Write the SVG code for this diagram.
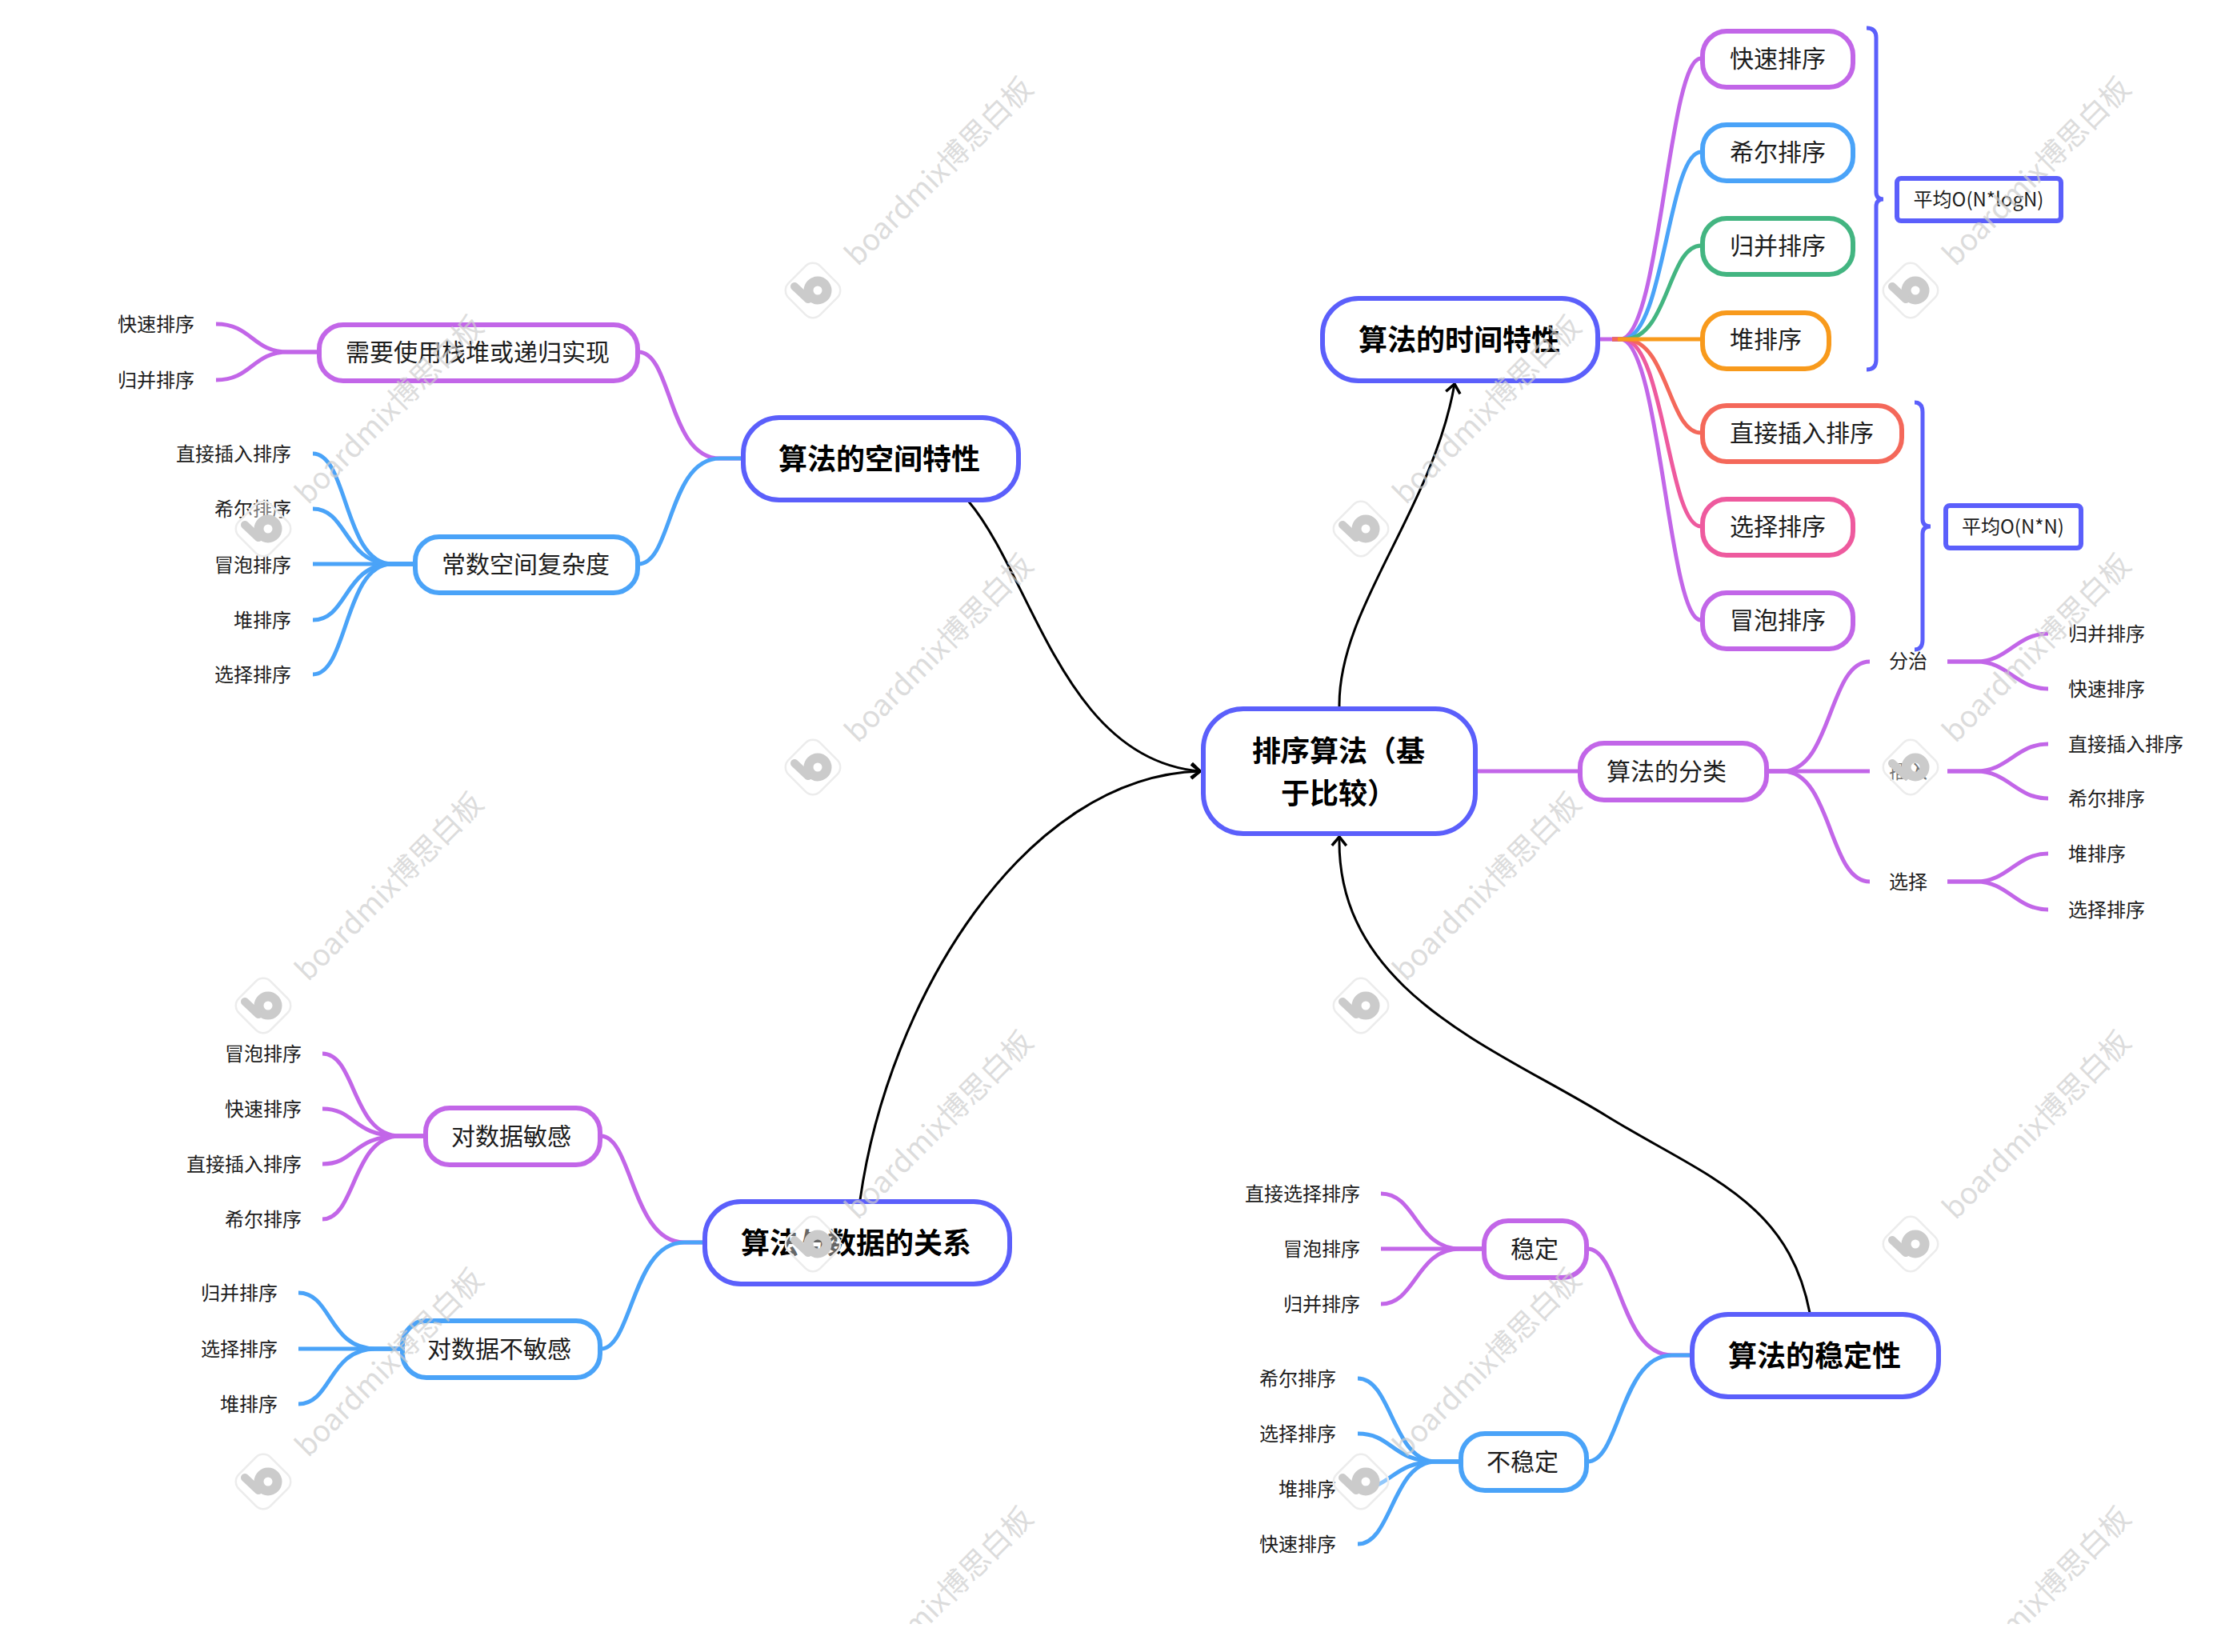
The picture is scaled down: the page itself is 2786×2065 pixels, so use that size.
<svg xmlns="http://www.w3.org/2000/svg" width="2786" height="2065" viewBox="0 0 2786 2065">
<style>
text{font-family:"Noto Sans CJK SC","Noto Sans",sans-serif;fill:#1c1c1c;dominant-baseline:central}
.t0,.t1,.tl,.tb{transform:translateY(-2px)}
.t0{font-size:36px;font-weight:700;fill:#000;text-anchor:middle}
.t1{font-size:30px;text-anchor:middle}
.tl{font-size:24px}
.e{text-anchor:end}
.tb{font-size:24px;text-anchor:middle}
.n{fill:#fff;stroke-width:6}
.main{stroke:#5b5ffb}
.c{fill:none;stroke-width:5;stroke-linecap:butt}
.p{stroke:#c266e8}.b{stroke:#4aa3f8}.g{stroke:#43b581}.o{stroke:#f89a1c}.r{stroke:#f4685a}.k{stroke:#ee5a9e}
.ar{fill:none;stroke:#000;stroke-width:3;marker-end:url(#arr)}
.br{fill:none;stroke:#5b5ffb;stroke-width:5}
.wt{font-size:37px;fill:#cdcdcd;fill-opacity:.7;dominant-baseline:auto}
</style>
<defs>
<marker id="arr" markerUnits="userSpaceOnUse" markerWidth="26" markerHeight="26" refX="17" refY="13" orient="auto"><path d="M6 4 L17 13 L6 22" fill="none" stroke="#000" stroke-width="3.5"/></marker>
<g id="logo"><rect x="-28" y="-28" width="56" height="56" rx="13" transform="rotate(45)" fill="#fff" fill-opacity=".4" stroke="#ececec" stroke-width="2.5"/><circle cx="6" cy="0" r="11.5" fill="none" stroke="#cbcbcb" stroke-width="12"/><path d="M-23 -5 L-6 11" fill="none" stroke="#cbcbcb" stroke-width="10" stroke-linecap="round"/></g>
<clipPath id="wclip"><rect x="0" y="0" width="2786" height="2030"/></clipPath>
</defs>
<rect width="2786" height="2065" fill="#fff"/>

<g id="connectors">
<path class="ar" d="M1674 884 C1672 760 1790 640 1818 480"/>
<path class="ar" d="M1210 626 C1290 720 1330 950 1500 964"/>
<path class="ar" d="M1075 1500 C1110 1250 1280 970 1500 964"/>
<path class="ar" d="M2262 1641 C2235 1500 2130 1470 2008 1395 C1870 1310 1670 1240 1674 1046"/>

<path class="c p" d="M1998 424 L2025 424 C2075 424 2085 73 2126 73"/>
<path class="c b" d="M2015 424 L2028 424 C2080 424 2085 190 2126 190"/>
<path class="c g" d="M2015 424 L2030 424 C2085 424 2085 307 2126 307"/>
<path class="c p" d="M2015 424 L2025 424 C2075 424 2085 775 2126 775"/>
<path class="c k" d="M2015 424 L2028 424 C2080 424 2085 658 2126 658"/>
<path class="c r" d="M2015 424 L2030 424 C2085 424 2085 541 2126 541"/>
<path class="c o" d="M2022 424 L2126 424"/>

<path class="c p" d="M1846 964 L1973 964"/>
<path class="c p" d="M2209 964 L2228 964 C2290 964 2285 827 2337 827"/>
<path class="c p" d="M2209 964 L2337 964"/>
<path class="c p" d="M2209 964 L2228 964 C2290 964 2285 1102 2337 1102"/>
<path class="c p" d="M2434 827 L2470 827 C2510 827 2520 792 2560 792"/>
<path class="c p" d="M2434 827 L2470 827 C2510 827 2520 861 2560 861"/>
<path class="c p" d="M2434 964 L2470 964 C2510 964 2520 930 2560 930"/>
<path class="c p" d="M2434 964 L2470 964 C2510 964 2520 998 2560 998"/>
<path class="c p" d="M2434 1102 L2470 1102 C2510 1102 2520 1067 2560 1067"/>
<path class="c p" d="M2434 1102 L2470 1102 C2510 1102 2520 1137 2560 1137"/>

<path class="c p" d="M929 573 L900 573 C835 573 840 440 798 440"/>
<path class="c b" d="M929 573 L900 573 C835 573 840 705 798 705"/>
<path class="c p" d="M398 440 L360 440 C315 440 315 405 270 405"/>
<path class="c p" d="M398 440 L360 440 C315 440 315 475 270 475"/>
<path class="c b" d="M519 705 L490 705 C430 705 435 567 391 567"/>
<path class="c b" d="M519 705 L490 705 C430 705 435 636 391 636"/>
<path class="c b" d="M519 705 L391 705"/>
<path class="c b" d="M519 705 L490 705 C430 705 435 775 391 775"/>
<path class="c b" d="M519 705 L490 705 C430 705 435 843 391 843"/>

<path class="c p" d="M880 1553 L855 1553 C790 1553 790 1420 751 1420"/>
<path class="c b" d="M880 1553 L855 1553 C790 1553 790 1686 751 1686"/>
<path class="c p" d="M531 1420 L500 1420 C440 1420 445 1317 403 1317"/>
<path class="c p" d="M531 1420 L500 1420 C440 1420 445 1386 403 1386"/>
<path class="c p" d="M531 1420 L500 1420 C440 1420 445 1455 403 1455"/>
<path class="c p" d="M531 1420 L500 1420 C440 1420 445 1524 403 1524"/>
<path class="c b" d="M502 1686 L470 1686 C410 1686 415 1616 373 1616"/>
<path class="c b" d="M502 1686 L373 1686"/>
<path class="c b" d="M502 1686 L470 1686 C410 1686 415 1755 373 1755"/>

<path class="c p" d="M2114 1694 L2090 1694 C2025 1694 2025 1561 1984 1561"/>
<path class="c b" d="M2114 1694 L2090 1694 C2025 1694 2025 1827 1984 1827"/>
<path class="c p" d="M1854 1561 L1825 1561 C1770 1561 1770 1492 1726 1492"/>
<path class="c p" d="M1854 1561 L1726 1561"/>
<path class="c p" d="M1854 1561 L1825 1561 C1770 1561 1770 1630 1726 1630"/>
<path class="c b" d="M1825 1827 L1795 1827 C1740 1827 1740 1723 1697 1723"/>
<path class="c b" d="M1825 1827 L1795 1827 C1740 1827 1740 1792 1697 1792"/>
<path class="c b" d="M1825 1827 L1795 1827 C1740 1827 1740 1861 1697 1861"/>
<path class="c b" d="M1825 1827 L1795 1827 C1740 1827 1740 1930 1697 1930"/>

<path class="br" d="M2333 35 Q2345 35 2345 47 L2345 240 Q2345 249 2354 249 Q2345 249 2345 258 L2345 450 Q2345 462 2333 462"/>
<path class="br" d="M2393 503 Q2403 503 2403 515 L2403 649 Q2403 658 2413 658 Q2403 658 2403 667 L2403 800 Q2403 812 2393 812"/>
</g>

<g id="root"><rect class="n main" x="1504" y="886" width="340" height="156" rx="50"/><text class="t0" x="1673" y="938">排序算法（基</text><text class="t0" x="1673" y="991">于比较）</text></g>

<g id="time"><rect class="n main" x="1653" y="373" width="344" height="103" rx="45"/><text class="t0" x="1824" y="424">算法的时间特性</text></g>
<g id="t-quick"><rect class="n p" x="2128" y="39" width="188" height="70" rx="30"/><text class="t1" x="2222" y="73">快速排序</text></g>
<g id="t-shell"><rect class="n b" x="2128" y="156" width="188" height="70" rx="30"/><text class="t1" x="2222" y="190">希尔排序</text></g>
<g id="t-merge"><rect class="n g" x="2128" y="273" width="188" height="70" rx="30"/><text class="t1" x="2222" y="307">归并排序</text></g>
<g id="t-heap"><rect class="n o" x="2128" y="391" width="158" height="70" rx="30"/><text class="t1" x="2207" y="424">堆排序</text></g>
<g id="t-insert"><rect class="n r" x="2128" y="507" width="249" height="70" rx="30"/><text class="t1" x="2252" y="541">直接插入排序</text></g>
<g id="t-select"><rect class="n k" x="2128" y="624" width="188" height="70" rx="30"/><text class="t1" x="2222" y="658">选择排序</text></g>
<g id="t-bubble"><rect class="n p" x="2128" y="741" width="188" height="70" rx="30"/><text class="t1" x="2222" y="775">冒泡排序</text></g>
<g id="avg-nlogn"><rect class="n main" x="2371" y="223" width="205" height="53" rx="5"/><text class="tb" x="2473" y="249">平均O(N*logN)</text></g>
<g id="avg-nn"><rect class="n main" x="2432" y="632" width="169" height="53" rx="5"/><text class="tb" x="2516" y="658">平均O(N*N)</text></g>

<g id="kind"><rect class="n p" x="1975" y="929" width="233" height="71" rx="30"/><text class="t1" x="2083" y="964">算法的分类</text></g>
<g id="k-dc"><text class="tl" x="2361" y="826">分治</text></g>
<g id="k-ins"><text class="tl" x="2361" y="964">插入</text></g>
<g id="k-sel"><text class="tl" x="2361" y="1102">选择</text></g>
<g id="k-l1"><text class="tl" x="2585" y="792">归并排序</text></g>
<g id="k-l2"><text class="tl" x="2585" y="861">快速排序</text></g>
<g id="k-l3"><text class="tl" x="2585" y="930">直接插入排序</text></g>
<g id="k-l4"><text class="tl" x="2585" y="998">希尔排序</text></g>
<g id="k-l5"><text class="tl" x="2585" y="1067">堆排序</text></g>
<g id="k-l6"><text class="tl" x="2585" y="1137">选择排序</text></g>

<g id="space"><rect class="n main" x="929" y="522" width="344" height="103" rx="45"/><text class="t0" x="1099" y="573">算法的空间特性</text></g>
<g id="s-stack"><rect class="n p" x="399" y="406" width="398" height="70" rx="30"/><text class="t1" x="597" y="440">需要使用栈堆或递归实现</text></g>
<g id="s-const"><rect class="n b" x="519" y="671" width="278" height="70" rx="30"/><text class="t1" x="657" y="705">常数空间复杂度</text></g>
<g id="s-l1"><text class="tl e" x="243" y="405">快速排序</text></g>
<g id="s-l2"><text class="tl e" x="243" y="475">归并排序</text></g>
<g id="s-l3"><text class="tl e" x="364" y="567">直接插入排序</text></g>
<g id="s-l4"><text class="tl e" x="364" y="636">希尔排序</text></g>
<g id="s-l5"><text class="tl e" x="364" y="706">冒泡排序</text></g>
<g id="s-l6"><text class="tl e" x="364" y="775">堆排序</text></g>
<g id="s-l7"><text class="tl e" x="364" y="843">选择排序</text></g>

<g id="data"><rect class="n main" x="881" y="1502" width="381" height="103" rx="45"/><text class="t0" x="1070" y="1553">算法与数据的关系</text></g>
<g id="d-sens"><rect class="n p" x="532" y="1385" width="218" height="71" rx="30"/><text class="t1" x="639" y="1420">对数据敏感</text></g>
<g id="d-insens"><rect class="n b" x="503" y="1651" width="247" height="71" rx="30"/><text class="t1" x="624" y="1686">对数据不敏感</text></g>
<g id="d-l1"><text class="tl e" x="377" y="1317">冒泡排序</text></g>
<g id="d-l2"><text class="tl e" x="377" y="1386">快速排序</text></g>
<g id="d-l3"><text class="tl e" x="377" y="1455">直接插入排序</text></g>
<g id="d-l4"><text class="tl e" x="377" y="1524">希尔排序</text></g>
<g id="d-l5"><text class="tl e" x="347" y="1616">归并排序</text></g>
<g id="d-l6"><text class="tl e" x="347" y="1686">选择排序</text></g>
<g id="d-l7"><text class="tl e" x="347" y="1755">堆排序</text></g>

<g id="stable"><rect class="n main" x="2115" y="1643" width="308" height="103" rx="45"/><text class="t0" x="2268" y="1694">算法的稳定性</text></g>
<g id="st-yes"><rect class="n p" x="1855" y="1526" width="128" height="71" rx="30"/><text class="t1" x="1918" y="1561">稳定</text></g>
<g id="st-no"><rect class="n b" x="1826" y="1792" width="157" height="71" rx="30"/><text class="t1" x="1903" y="1827">不稳定</text></g>
<g id="st-l1"><text class="tl e" x="1700" y="1492">直接选择排序</text></g>
<g id="st-l2"><text class="tl e" x="1700" y="1561">冒泡排序</text></g>
<g id="st-l3"><text class="tl e" x="1700" y="1630">归并排序</text></g>
<g id="st-l4"><text class="tl e" x="1670" y="1723">希尔排序</text></g>
<g id="st-l5"><text class="tl e" x="1670" y="1792">选择排序</text></g>
<g id="st-l6"><text class="tl e" x="1670" y="1861">堆排序</text></g>
<g id="st-l7"><text class="tl e" x="1670" y="1930">快速排序</text></g>

<g id="watermarks" clip-path="url(#wclip)">
<use href="#logo" x="1016" y="363"/><text class="wt" transform="translate(1072 334) rotate(-45)">boardmix博思白板</text>
<use href="#logo" x="2388" y="363"/><text class="wt" transform="translate(2444 334) rotate(-45)">boardmix博思白板</text>
<use href="#logo" x="329" y="661"/><text class="wt" transform="translate(385 632) rotate(-45)">boardmix博思白板</text>
<use href="#logo" x="1701" y="661"/><text class="wt" transform="translate(1757 632) rotate(-45)">boardmix博思白板</text>
<use href="#logo" x="1016" y="959"/><text class="wt" transform="translate(1072 930) rotate(-45)">boardmix博思白板</text>
<use href="#logo" x="2388" y="959"/><text class="wt" transform="translate(2444 930) rotate(-45)">boardmix博思白板</text>
<use href="#logo" x="329" y="1257"/><text class="wt" transform="translate(385 1228) rotate(-45)">boardmix博思白板</text>
<use href="#logo" x="1701" y="1257"/><text class="wt" transform="translate(1757 1228) rotate(-45)">boardmix博思白板</text>
<use href="#logo" x="1016" y="1555"/><text class="wt" transform="translate(1072 1526) rotate(-45)">boardmix博思白板</text>
<use href="#logo" x="2388" y="1555"/><text class="wt" transform="translate(2444 1526) rotate(-45)">boardmix博思白板</text>
<use href="#logo" x="329" y="1852"/><text class="wt" transform="translate(385 1823) rotate(-45)">boardmix博思白板</text>
<use href="#logo" x="1701" y="1852"/><text class="wt" transform="translate(1757 1823) rotate(-45)">boardmix博思白板</text>
<text class="wt" transform="translate(1072 2121) rotate(-45)">boardmix博思白板</text>
<text class="wt" transform="translate(2444 2121) rotate(-45)">boardmix博思白板</text>
</g>
</svg>
